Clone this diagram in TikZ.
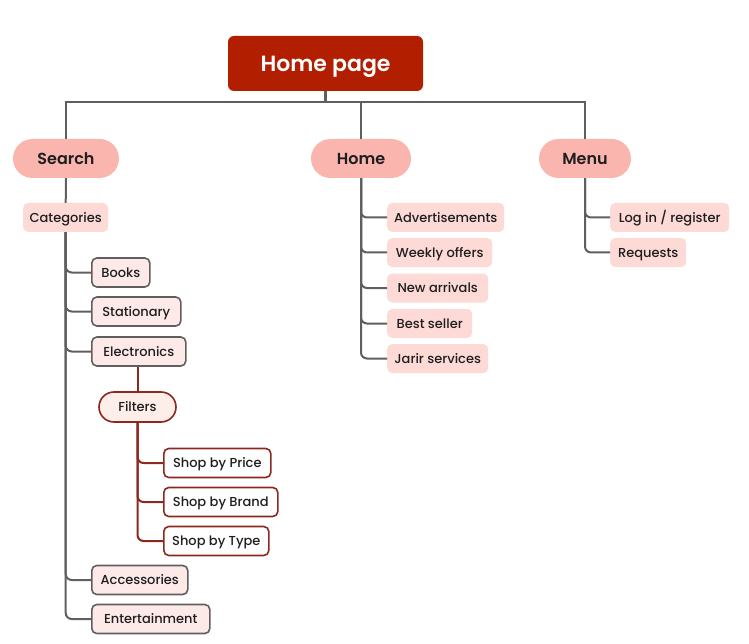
\documentclass[tikz,border=0pt]{standalone}
\usepackage{fontspec}
\setmainfont{Poppins}[BoldFont={Poppins SemiBold}]
\newfontfamily\medfont{Poppins Medium}
\begin{document}
\definecolor{hpred}{RGB}{178,31,0}
\definecolor{pillc}{RGB}{249,181,174}
\definecolor{lightc}{RGB}{253,218,214}
\definecolor{catc}{RGB}{253,234,232}
\definecolor{filc}{RGB}{253,238,234}
\definecolor{dred}{RGB}{140,40,30}
\definecolor{linec}{RGB}{95,95,95}
\definecolor{txt}{RGB}{30,30,30}
\begin{tikzpicture}[x=1pt,y=1pt,
  root/.style={fill=hpred,rounded corners=6pt,text=white,font=\fontsize{22}{26}\selectfont\bfseries,
    text height=15.4pt,text depth=0pt,minimum width=195pt,minimum height=55pt,inner sep=0pt},
  pill/.style={fill=pillc,rounded corners=19.5pt,text=txt,font=\fontsize{16}{19}\selectfont\bfseries,
    text height=11.2pt,text depth=0pt,minimum height=39pt,inner sep=0pt},
  leaf/.style={fill=lightc,rounded corners=5pt,text=txt,font=\fontsize{13}{15}\selectfont\medfont,
    text height=9.1pt,text depth=0pt,minimum height=29pt,inner sep=0pt,anchor=west},
  catleaf/.style={leaf,fill=catc,draw=linec,line width=1.6pt},
  filt/.style={fill=filc,draw=dred,line width=1.6pt,rounded corners=15pt,text=txt,
    font=\fontsize{13}{15}\selectfont\medfont,text height=9.1pt,text depth=0pt,
    minimum height=30pt,inner sep=0pt},
  shop/.style={leaf,fill=white,draw=dred,line width=1.6pt},
  trunk/.style={draw=linec,line width=2.6pt},
  branch/.style={draw=linec,line width=2pt,rounded corners=6pt},
  rbranch/.style={draw=dred,line width=2pt,rounded corners=6pt}]
\useasboundingbox (0,0) rectangle (749,-644);

% top level
\node[root] (hp) at (325.5,-63.5) {Home page};
\node[pill,minimum width=106pt] (search) at (66,-158.5) {Search};
\node[pill,minimum width=100pt] (home) at (361,-158.5) {Home};
\node[pill,minimum width=92pt] (menu) at (585,-158.5) {Menu};
\coordinate (bar) at (325.5,-102);

\draw[trunk] (hp.south) -- (bar);
\draw[trunk] (bar) -| (search.north);
\draw[trunk] (bar) -| (home.north);
\draw[trunk] (bar) -| (menu.north);

% search branch
\node[leaf,minimum width=85pt] (cat) at (23,-217.5) {Categories};
\draw[branch] (search.south) -- (cat.north);

\node[catleaf,minimum width=58pt] (books) at (91,-272.5) {Books};
\node[catleaf,minimum width=89pt] (stat) at (91,-311.5) {Stationary};
\node[catleaf,minimum width=94pt] (elec) at (91,-351.5) {Electronics};
\node[catleaf,minimum width=96pt] (acc) at (91,-580) {Accessories};
\node[catleaf,minimum width=118pt] (ent) at (91,-619) {Entertainment};
\foreach \n in {books,stat,elec,acc,ent}
  \draw[branch] (cat.south) |- (\n.west);

\node[filt,minimum width=77pt] (filters) at (137.5,-407) {Filters};
\draw[draw=dred,line width=2pt] (filters.north) -- (filters.north |- elec.south);

\node[shop,minimum width=107pt] (price) at (163,-463) {Shop by Price};
\node[shop,minimum width=114pt] (brand) at (163,-502) {Shop by Brand};
\node[shop,minimum width=105pt] (type) at (163,-541) {Shop by Type};
\foreach \n in {price,brand,type}
  \draw[rbranch] (filters.south) |- (\n.west);

% home branch
\node[leaf,minimum width=117pt] (adv) at (387,-217.5) {Advertisements};
\node[leaf,minimum width=105pt] (week) at (387,-252.5) {Weekly offers};
\node[leaf,minimum width=101pt] (new) at (387,-288) {New arrivals};
\node[leaf,minimum width=85pt] (best) at (387,-323.5) {Best seller};
\node[leaf,minimum width=101pt] (jarir) at (387,-358.5) {Jarir services};
\foreach \n in {adv,week,new,best,jarir}
  \draw[branch] (home.south) |- (\n.west);

% menu branch
\node[leaf,minimum width=119pt] (log) at (610,-217.5) {Log in / register};
\node[leaf,minimum width=76pt] (req) at (610,-252.5) {Requests};
\foreach \n in {log,req}
  \draw[branch] (menu.south) |- (\n.west);
\end{tikzpicture}
\end{document}
